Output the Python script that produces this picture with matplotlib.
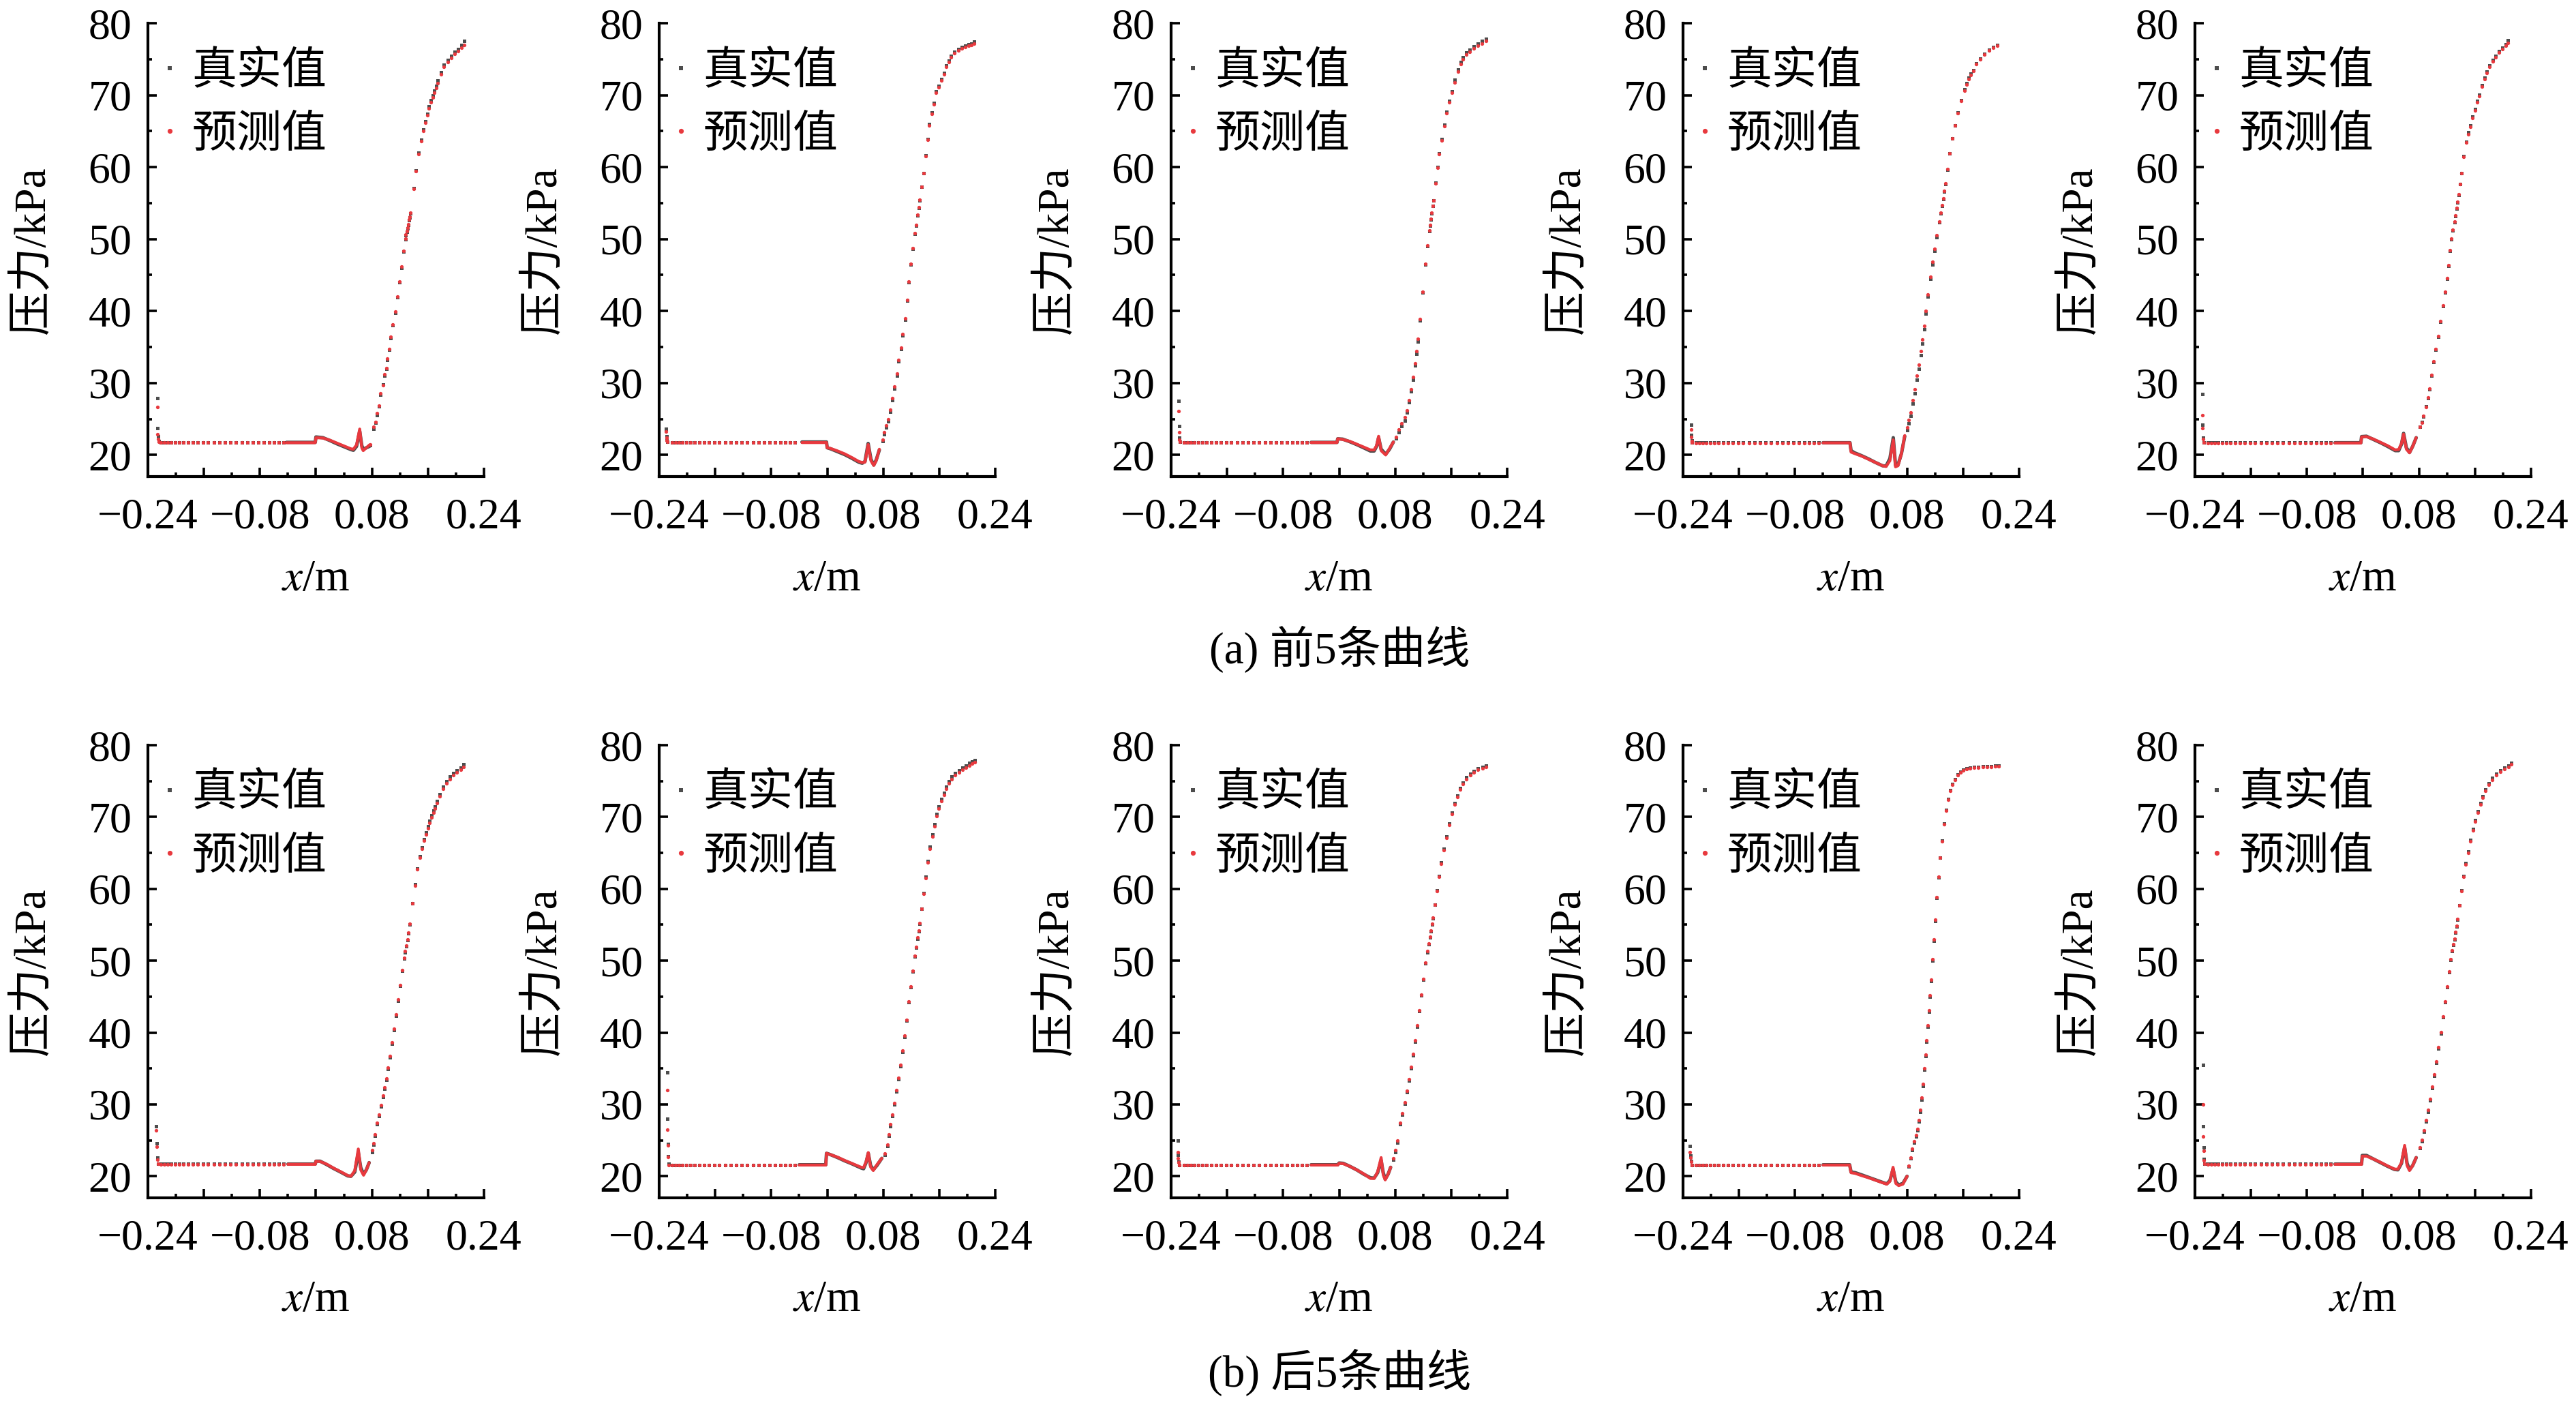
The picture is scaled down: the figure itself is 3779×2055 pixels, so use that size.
import matplotlib
matplotlib.use('Agg')
import matplotlib.pyplot as plt
from matplotlib.ticker import MultipleLocator, FuncFormatter
from matplotlib.lines import Line2D

plt.rcParams['font.family'] = ['Liberation Serif', 'Noto Sans CJK SC']
plt.rcParams['mathtext.fontset'] = 'stix'
plt.rcParams['axes.unicode_minus'] = True

GRAY = '#4d4d4d'
RED = '#e8393e'

LEGEND_LABELS = ['真实值', '预测值']
CAPTIONS = ['(a) 前5条曲线', '(b) 后5条曲线']
X_TICK_LABELED = [-0.24, -0.08, 0.08, 0.24]

# shared sparse mesh in the upstream flat region
x_flat = [-0.2215, -0.2165, -0.2115, -0.2065, -0.2010, -0.1955, -0.1895, -0.1830, -0.1760,
          -0.1690, -0.1615, -0.1540, -0.1460, -0.1380, -0.1300, -0.1220, -0.1140, -0.1060,
          -0.0980, -0.0900, -0.0820, -0.0745, -0.0670, -0.0600, -0.0530, -0.0465]
flat_true = [21.75, 21.75, 21.75, 21.70, 21.70, 21.70, 21.60, 21.60, 21.60, 21.70]
flat_pred = [21.70, 21.70, 21.72, 21.68, 21.66, 21.66, 21.58, 21.56, 21.58, 21.66]

# ---------------- (a) panel 1 ----------------
a1_inlet_x = [-0.2267, -0.2262, -0.2255, -0.2245]
a1_inlet_true = [27.9, 23.7, 22.6, 21.9]
a1_inlet_pred = [26.7, 22.9, 22.2, 21.8]
a1_dense_x = [-0.042, -0.001, 0.000, 0.010, 0.020, 0.030, 0.040, 0.050, 0.0535, 0.058, 0.0625, 0.0655, 0.0675, 0.072, 0.0765]
a1_dense_true = [21.75, 21.75, 22.5, 22.4, 22.0, 21.55, 21.15, 20.75, 20.65, 21.2, 23.3, 21.3, 20.8, 21.0, 21.2]
a1_dense_pred = [21.7, 21.7, 22.4, 22.35, 22.05, 21.65, 21.25, 20.85, 20.8, 21.4, 23.6, 21.0, 20.6, 21.0, 21.4]
a1_rise_x = [0.0777, 0.0826, 0.0849, 0.0868, 0.0898, 0.0923, 0.0956, 0.0979, 0.1005, 0.1020, 0.1045, 0.1070,
             0.1100, 0.1130, 0.1160, 0.1190, 0.1220, 0.1250, 0.1276, 0.1285, 0.1295, 0.1305, 0.1315, 0.1325,
             0.1335, 0.1350, 0.1397, 0.1430, 0.1466, 0.1500, 0.1530, 0.1560, 0.1590, 0.1615, 0.1640, 0.1665,
             0.1690, 0.1715, 0.1740, 0.1785, 0.1830, 0.1880, 0.1930, 0.1980, 0.2030, 0.2080, 0.2120]
a1_rise_true = [21.4, 23.6, 24.5, 25.5, 26.8, 28.4, 29.8, 31.0, 32.0, 33.2, 34.6, 36.2, 38.0, 39.7, 41.9, 44.0,
                46.0, 48.3, 50.0, 50.5, 51.0, 51.5, 52.0, 52.6, 53.0, 53.6, 57.1, 59.5, 62.0, 63.8, 65.2, 66.4,
                67.4, 68.4, 69.3, 70.0, 70.6, 71.3, 72.0, 73.2, 74.2, 74.9, 75.5, 76.0, 76.4, 77.0, 77.5]
a1_rise_pred = [21.5, 23.9, 24.6, 25.8, 26.9, 28.6, 29.7, 31.2, 32.1, 33.4, 34.7, 36.4, 38.1, 39.9, 42.0, 44.1,
                46.2, 48.4, 50.1, 50.6, 51.1, 51.6, 52.1, 52.7, 53.1, 53.7, 57.0, 59.4, 61.8, 63.6, 65.0, 66.2,
                67.2, 68.2, 69.0, 69.7, 70.3, 71.0, 71.7, 72.9, 73.9, 74.6, 75.2, 75.7, 76.1, 76.6, 77.0]

# ---------------- (a) panel 2 ----------------
a2_inlet_x = [-0.2300, -0.2295, -0.2290, -0.2280]
a2_inlet_true = [23.6, 22.6, 22.1, 21.85]
a2_inlet_pred = [23.3, 22.4, 22.0, 21.8]
a2_dense_x = [-0.036, -0.001, 0.000, 0.005, 0.015, 0.025, 0.035, 0.045, 0.050, 0.054, 0.0585, 0.0625, 0.0665, 0.070, 0.0745]
a2_dense_true = [21.8, 21.8, 21.0, 20.85, 20.45, 20.05, 19.55, 19.0, 18.85, 19.1, 21.6, 19.4, 18.6, 19.3, 20.7]
a2_dense_pred = [21.72, 21.72, 21.0, 20.9, 20.55, 20.15, 19.65, 19.1, 18.95, 19.0, 21.45, 19.2, 18.55, 19.2, 20.8]
a2_rise_x = [0.0790, 0.0815, 0.0845, 0.0874, 0.0900, 0.0933, 0.0962, 0.0995, 0.1020, 0.1053, 0.1080, 0.1110,
             0.1140, 0.1165, 0.1188, 0.1220, 0.1254, 0.1270, 0.1290, 0.1305, 0.1320, 0.1350, 0.1377, 0.1405,
             0.1433, 0.1460, 0.1490, 0.1520, 0.1556, 0.1590, 0.1630, 0.1665, 0.1697, 0.1735, 0.1770, 0.1820,
             0.1870, 0.1920, 0.1970, 0.2020, 0.2060, 0.2103]
a2_rise_true = [21.9, 22.9, 23.8, 24.7, 26.0, 27.6, 29.2, 31.0, 33.0, 34.7, 36.6, 38.8, 41.4, 44.0, 46.5, 48.6,
                50.7, 51.9, 53.3, 54.3, 55.4, 57.3, 59.2, 61.6, 63.9, 66.0, 67.6, 68.9, 70.5, 71.3, 72.2, 73.1,
                74.1, 74.8, 75.5, 76.0, 76.4, 76.7, 76.9, 77.1, 77.2, 77.4]
a2_rise_pred = [22.1, 23.2, 24.1, 25.0, 26.3, 27.9, 29.5, 31.3, 33.2, 34.9, 36.8, 39.0, 41.5, 44.1, 46.6, 48.7,
                50.8, 52.0, 53.4, 54.4, 55.5, 57.3, 59.2, 61.5, 63.8, 65.8, 67.4, 68.7, 70.3, 71.1, 72.0, 72.9,
                73.9, 74.6, 75.3, 75.8, 76.2, 76.5, 76.7, 76.9, 77.0, 77.2]

# ---------------- (a) panel 3 ----------------
a3_inlet_x = [-0.2290, -0.2286, -0.2280, -0.2272]
a3_inlet_true = [27.5, 24.0, 22.4, 21.8]
a3_inlet_pred = [26.1, 23.2, 22.1, 21.8]
a3_dense_x = [-0.040, -0.003, -0.002, 0.005, 0.015, 0.025, 0.035, 0.0447, 0.050, 0.0535, 0.0564, 0.060, 0.0665, 0.072, 0.0775]
a3_dense_true = [21.75, 21.75, 22.25, 22.2, 21.85, 21.45, 21.0, 20.55, 20.55, 21.2, 22.4, 20.8, 20.1, 20.8, 21.8]
a3_dense_pred = [21.72, 21.72, 22.25, 22.15, 21.9, 21.5, 21.1, 20.7, 20.7, 21.3, 22.6, 20.6, 20.0, 20.9, 21.8]
a3_rise_x = [0.0810, 0.0850, 0.0890, 0.0940, 0.0966, 0.0998, 0.1027, 0.1056, 0.1083, 0.1108, 0.1128, 0.1158,
             0.1196, 0.1234, 0.1260, 0.1291, 0.1300, 0.1310, 0.1320, 0.1335, 0.1347, 0.1375, 0.1404, 0.1430,
             0.1461, 0.1500, 0.1536, 0.1575, 0.1612, 0.1655, 0.1696, 0.1735, 0.1772, 0.1820, 0.1866, 0.1920,
             0.1980, 0.2040, 0.2100]
a3_rise_true = [22.3, 23.2, 24.0, 24.8, 25.9, 27.3, 28.8, 30.5, 32.4, 34.1, 35.8, 38.7, 42.6, 46.5, 49.0, 51.1,
                51.9, 52.7, 53.6, 54.6, 55.4, 57.8, 60.0, 61.9, 63.9, 65.9, 67.7, 69.2, 70.5, 72.1, 73.6, 74.6,
                75.3, 75.9, 76.3, 76.8, 77.2, 77.5, 77.8]
a3_rise_pred = [22.5, 23.5, 24.4, 25.2, 26.2, 27.6, 29.1, 30.8, 32.7, 34.4, 36.1, 38.9, 42.7, 46.6, 49.1, 51.2,
                52.0, 52.8, 53.7, 54.6, 55.4, 57.7, 59.9, 61.8, 63.7, 65.7, 67.5, 69.0, 70.3, 71.8, 73.3, 74.3,
                75.0, 75.6, 76.0, 76.5, 76.9, 77.2, 77.5]

# ---------------- (a) panel 4 ----------------
a4_inlet_x = [-0.2285, -0.2280, -0.2275, -0.2270]
a4_inlet_true = [24.2, 22.8, 22.0, 21.75]
a4_inlet_pred = [23.5, 22.5, 21.9, 21.7]
a4_dense_x = [-0.040, -0.0015, 0.000, 0.005, 0.015, 0.025, 0.035, 0.045, 0.050, 0.0555, 0.0603, 0.0635, 0.067, 0.072, 0.0767]
a4_dense_true = [21.7, 21.7, 20.6, 20.3, 19.9, 19.45, 18.95, 18.5, 18.45, 19.5, 22.4, 18.6, 18.6, 20.2, 22.6]
a4_dense_pred = [21.68, 21.68, 20.4, 20.2, 19.85, 19.4, 18.95, 18.5, 18.4, 19.2, 22.1, 18.35, 18.5, 20.2, 22.7]
a4_rise_x = [0.0800, 0.0825, 0.0852, 0.0878, 0.0907, 0.0940, 0.0966, 0.0998, 0.1020, 0.1045, 0.1069, 0.1100,
             0.1134, 0.1165, 0.1193, 0.1225, 0.1261, 0.1285, 0.1300, 0.1315, 0.1330, 0.1344, 0.1375, 0.1410,
             0.1450, 0.1485, 0.1525, 0.1569, 0.1618, 0.1650, 0.1677, 0.1710, 0.1744, 0.1790, 0.1843, 0.1900,
             0.1968, 0.2030, 0.2093]
a4_rise_true = [23.4, 24.4, 25.4, 27.1, 28.6, 30.5, 32.0, 33.9, 35.5, 37.5, 39.6, 42.0, 44.5, 46.5, 48.4, 50.3,
                52.3, 53.6, 54.6, 55.6, 56.6, 57.6, 59.6, 61.9, 64.0, 65.8, 67.6, 69.3, 70.8, 71.7, 72.4, 73.0,
                73.5, 74.4, 75.1, 75.7, 76.3, 76.7, 77.0]
a4_rise_pred = [23.8, 24.9, 25.9, 27.6, 29.1, 31.0, 32.5, 34.4, 36.0, 37.9, 40.0, 42.3, 44.8, 46.8, 48.6, 50.5,
                52.4, 53.7, 54.7, 55.7, 56.7, 57.7, 59.7, 61.9, 64.0, 65.8, 67.5, 69.2, 70.6, 71.5, 72.2, 72.8,
                73.4, 74.3, 75.0, 75.6, 76.2, 76.6, 76.9]

# ---------------- (a) panel 5 ----------------
a5_inlet_x = [-0.2297, -0.2292, -0.2286, -0.2278]
a5_inlet_true = [28.5, 24.2, 22.4, 21.7]
a5_inlet_pred = [25.5, 23.7, 22.2, 21.7]
a5_dense_x = [-0.040, -0.003, -0.002, 0.005, 0.015, 0.025, 0.035, 0.046, 0.051, 0.055, 0.058, 0.062, 0.0665, 0.071, 0.076]
a5_dense_true = [21.7, 21.7, 22.55, 22.6, 22.15, 21.7, 21.2, 20.6, 20.6, 21.5, 23.0, 21.0, 20.35, 21.2, 22.4]
a5_dense_pred = [21.66, 21.66, 22.5, 22.55, 22.2, 21.75, 21.3, 20.7, 20.75, 21.6, 22.9, 20.8, 20.3, 21.2, 22.4]
a5_rise_x = [0.0810, 0.0840, 0.0866, 0.0900, 0.0925, 0.0950, 0.0980, 0.1008, 0.1040, 0.1074, 0.1105, 0.1140,
             0.1170, 0.1199, 0.1220, 0.1240, 0.1265, 0.1285, 0.1307, 0.1320, 0.1335, 0.1350, 0.1365, 0.1385,
             0.1407, 0.1440, 0.1473, 0.1500, 0.1532, 0.1565, 0.1598, 0.1630, 0.1656, 0.1700, 0.1738, 0.1770,
             0.1806, 0.1850, 0.1889, 0.1940, 0.1990, 0.2035, 0.2072]
a5_rise_true = [23.9, 24.6, 25.3, 26.8, 27.9, 29.1, 31.0, 32.9, 34.6, 36.4, 38.5, 40.7, 42.6, 44.5, 46.3, 48.4,
                50.0, 51.2, 52.3, 53.2, 54.2, 55.1, 56.1, 57.6, 59.2, 61.5, 63.5, 64.8, 65.8, 67.0, 68.1, 69.2,
                70.1, 71.4, 72.4, 73.3, 74.1, 74.9, 75.5, 76.1, 76.6, 77.1, 77.6]
a5_rise_pred = [23.9, 24.5, 25.4, 26.7, 28.0, 29.2, 31.1, 33.0, 34.7, 36.5, 38.6, 40.8, 42.7, 44.6, 46.4, 48.5,
                50.1, 51.3, 52.4, 53.3, 54.3, 55.2, 56.2, 57.6, 59.2, 61.4, 63.4, 64.6, 65.6, 66.8, 67.9, 69.0,
                69.9, 71.2, 72.2, 73.1, 73.9, 74.7, 75.3, 75.9, 76.4, 76.9, 77.3]

# ---------------- (b) panel 1 ----------------
b1_inlet_x = [-0.2280, -0.2275, -0.2265, -0.2255]
b1_inlet_true = [27.0, 24.6, 22.6, 21.75]
b1_inlet_pred = [26.4, 24.1, 22.3, 21.7]
b1_dense_x = [-0.040, -0.001, 0.000, 0.006, 0.015, 0.025, 0.035, 0.0455, 0.050, 0.0555, 0.0605, 0.064, 0.068, 0.072, 0.076]
b1_dense_true = [21.7, 21.7, 22.1, 22.1, 21.65, 21.1, 20.6, 20.05, 20.0, 20.6, 23.3, 21.2, 20.3, 20.9, 21.9]
b1_dense_pred = [21.66, 21.66, 22.1, 22.05, 21.7, 21.15, 20.65, 20.1, 20.0, 20.8, 23.8, 20.9, 20.15, 20.9, 21.9]
b1_rise_x = [0.0800, 0.0820, 0.0845, 0.0876, 0.0900, 0.0925, 0.0955, 0.0980, 0.1005, 0.1030, 0.1055, 0.1085,
             0.1115, 0.1145, 0.1175, 0.1205, 0.1235, 0.1260, 0.1275, 0.1290, 0.1305, 0.1320, 0.1340, 0.1380,
             0.1415, 0.1450, 0.1485, 0.1515, 0.1545, 0.1575, 0.1600, 0.1625, 0.1650, 0.1675, 0.1700, 0.1730,
             0.1770, 0.1815, 0.1865, 0.1915, 0.1965, 0.2015, 0.2065, 0.2110]
b1_rise_true = [23.4, 24.4, 25.6, 27.2, 28.4, 29.7, 31.0, 32.2, 33.4, 34.9, 36.5, 38.4, 40.3, 42.3, 44.4, 46.5,
                48.6, 50.3, 51.2, 52.0, 52.9, 53.8, 55.0, 58.0, 60.6, 62.8, 64.5, 65.8, 66.9, 67.9, 68.7, 69.5,
                70.2, 70.9, 71.5, 72.2, 73.2, 74.2, 75.0, 75.6, 76.1, 76.5, 76.9, 77.3]
b1_rise_pred = [23.6, 24.6, 25.8, 27.4, 28.6, 29.9, 31.2, 32.4, 33.6, 35.1, 36.7, 38.6, 40.5, 42.5, 44.6, 46.6,
                48.7, 50.4, 51.3, 52.1, 53.0, 53.9, 55.1, 58.0, 60.5, 62.7, 64.3, 65.6, 66.7, 67.6, 68.4, 69.2,
                69.9, 70.6, 71.2, 71.9, 72.9, 73.9, 74.7, 75.3, 75.8, 76.2, 76.6, 77.0]

# ---------------- (b) panel 2 ----------------
b2_inlet_x = [-0.2285, -0.2282, -0.2278, -0.2270, -0.2260]
b2_inlet_true = [34.5, 28.0, 24.5, 22.8, 21.7]
b2_inlet_pred = [32.0, 26.5, 24.3, 22.7, 21.6]
b2_dense_x = [-0.040, -0.002, -0.001, 0.005, 0.015, 0.025, 0.035, 0.0486, 0.052, 0.0555, 0.0587, 0.062, 0.0658, 0.071, 0.078]
b2_dense_true = [21.6, 21.6, 23.2, 23.0, 22.6, 22.15, 21.75, 21.15, 21.05, 21.9, 23.2, 21.5, 20.9, 21.5, 22.5]
b2_dense_pred = [21.56, 21.56, 23.2, 23.0, 22.65, 22.2, 21.8, 21.25, 21.2, 22.0, 23.3, 21.3, 20.8, 21.6, 22.5]
b2_rise_x = [0.0820, 0.0860, 0.0880, 0.0900, 0.0925, 0.0955, 0.0985, 0.1015, 0.1045, 0.1075, 0.1105, 0.1135,
             0.1165, 0.1190, 0.1220, 0.1250, 0.1270, 0.1290, 0.1305, 0.1320, 0.1350, 0.1380, 0.1410, 0.1440,
             0.1470, 0.1500, 0.1530, 0.1560, 0.1595, 0.1630, 0.1665, 0.1700, 0.1740, 0.1780, 0.1830, 0.1880,
             0.1930, 0.1980, 0.2030, 0.2070, 0.2110]
b2_rise_true = [23.0, 24.2, 25.6, 27.0, 28.4, 30.0, 31.8, 33.5, 35.3, 37.3, 39.4, 41.7, 44.2, 46.3, 48.5, 50.6,
                51.8, 53.1, 54.1, 55.1, 57.2, 59.4, 61.7, 63.9, 65.9, 67.6, 69.0, 70.4, 71.5, 72.5, 73.4, 74.2,
                75.0, 75.6, 76.1, 76.5, 76.9, 77.2, 77.5, 77.7, 77.9]
b2_rise_pred = [23.2, 24.4, 25.8, 27.2, 28.6, 30.2, 32.0, 33.7, 35.5, 37.5, 39.6, 41.8, 44.3, 46.4, 48.6, 50.7,
                51.9, 53.2, 54.2, 55.2, 57.2, 59.3, 61.5, 63.7, 65.6, 67.3, 68.7, 70.1, 71.2, 72.2, 73.1, 73.9,
                74.7, 75.3, 75.8, 76.2, 76.6, 76.9, 77.2, 77.4, 77.6]

# ---------------- (b) panel 3 ----------------
b3_inlet_x = [-0.2306, -0.2300, -0.2290, -0.2280]
b3_inlet_true = [25.0, 23.0, 22.0, 21.6]
b3_inlet_pred = [23.4, 22.5, 21.9, 21.6]
b3_dense_x = [-0.040, -0.002, 0.000, 0.006, 0.015, 0.025, 0.035, 0.0447, 0.050, 0.055, 0.060, 0.063, 0.0658, 0.070, 0.0736]
b3_dense_true = [21.6, 21.6, 21.85, 21.8, 21.4, 20.9, 20.3, 19.8, 19.75, 20.5, 22.2, 20.5, 19.6, 20.3, 21.25]
b3_dense_pred = [21.56, 21.56, 21.8, 21.75, 21.4, 20.9, 20.35, 19.7, 19.7, 20.6, 22.6, 20.2, 19.5, 20.3, 21.25]
b3_rise_x = [0.0770, 0.0800, 0.0837, 0.0876, 0.0905, 0.0935, 0.0965, 0.0995, 0.1025, 0.1055, 0.1085, 0.1115,
             0.1145, 0.1175, 0.1205, 0.1235, 0.1260, 0.1280, 0.1295, 0.1310, 0.1325, 0.1340, 0.1370, 0.1400,
             0.1430, 0.1460, 0.1495, 0.1530, 0.1570, 0.1610, 0.1650, 0.1690, 0.1730, 0.1770, 0.1820, 0.1870,
             0.1925, 0.1985, 0.2045, 0.2100]
b3_rise_true = [22.3, 23.4, 24.7, 27.2, 28.6, 30.1, 31.7, 33.3, 35.0, 36.8, 38.7, 40.8, 43.0, 45.2, 47.4, 49.6,
                51.2, 52.3, 53.2, 54.1, 55.0, 55.9, 57.8, 59.8, 61.8, 63.7, 65.6, 67.3, 69.1, 70.6, 71.9, 73.0,
                74.0, 74.8, 75.5, 76.0, 76.4, 76.8, 77.0, 77.2]
b3_rise_pred = [22.5, 23.6, 25.0, 27.4, 28.8, 30.3, 31.9, 33.5, 35.2, 37.0, 38.9, 41.0, 43.1, 45.3, 47.5, 49.7,
                51.3, 52.4, 53.3, 54.2, 55.1, 56.0, 57.8, 59.7, 61.7, 63.5, 65.4, 67.1, 68.9, 70.4, 71.7, 72.8,
                73.8, 74.6, 75.3, 75.8, 76.2, 76.6, 76.8, 77.0]

# ---------------- (b) panel 4 ----------------
b4_inlet_x = [-0.2300, -0.2295, -0.2285, -0.2275]
b4_inlet_true = [24.2, 22.9, 22.1, 21.6]
b4_inlet_pred = [23.4, 22.6, 22.0, 21.6]
b4_dense_x = [-0.040, -0.002, 0.000, 0.006, 0.015, 0.025, 0.035, 0.045, 0.051, 0.0555, 0.060, 0.064, 0.068, 0.074, 0.080]
b4_dense_true = [21.6, 21.6, 20.6, 20.5, 20.2, 19.85, 19.5, 19.15, 18.95, 19.4, 21.0, 19.2, 18.8, 19.0, 20.0]
b4_dense_pred = [21.56, 21.56, 20.5, 20.4, 20.1, 19.8, 19.45, 19.1, 18.9, 19.3, 21.25, 19.0, 18.7, 18.9, 20.0]
b4_rise_x = [0.0825, 0.0850, 0.0875, 0.0900, 0.0925, 0.0950, 0.0970, 0.0990, 0.1010, 0.1030, 0.1050, 0.1065,
             0.1080, 0.1095, 0.1110, 0.1125, 0.1140, 0.1160, 0.1180, 0.1200, 0.1225, 0.1250, 0.1275, 0.1300,
             0.1330, 0.1360, 0.1390, 0.1420, 0.1450, 0.1480, 0.1520, 0.1560, 0.1600, 0.1650, 0.1700, 0.1760,
             0.1820, 0.1880, 0.1940, 0.2000, 0.2060, 0.2110]
b4_rise_true = [21.4, 22.5, 23.6, 24.7, 25.5, 26.4, 27.6, 29.0, 30.7, 32.6, 34.8, 36.7, 38.7, 40.8, 42.9, 45.0,
                47.2, 50.0, 52.8, 55.5, 58.7, 61.6, 64.3, 66.7, 69.1, 71.0, 72.5, 73.7, 74.6, 75.3, 75.9, 76.3,
                76.6, 76.8, 76.9, 77.0, 77.0, 77.1, 77.1, 77.1, 77.2, 77.2]
b4_rise_pred = [21.5, 22.6, 23.8, 24.9, 25.7, 26.6, 27.8, 29.2, 30.9, 32.8, 35.0, 36.9, 38.9, 41.0, 43.1, 45.2,
                47.4, 50.2, 53.0, 55.7, 58.8, 61.7, 64.3, 66.6, 69.0, 70.9, 72.4, 73.6, 74.5, 75.2, 75.8, 76.2,
                76.5, 76.7, 76.8, 76.9, 76.9, 77.0, 77.0, 77.0, 77.1, 77.1]

# ---------------- (b) panel 5 ----------------
b5_inlet_x = [-0.2285, -0.2282, -0.2278, -0.2270, -0.2260]
b5_inlet_true = [35.5, 27.0, 24.0, 22.4, 21.7]
b5_inlet_pred = [30.0, 25.5, 23.5, 22.2, 21.7]
b5_dense_x = [-0.040, -0.002, -0.001, 0.005, 0.015, 0.025, 0.035, 0.045, 0.050, 0.055, 0.0595, 0.063, 0.0665, 0.071, 0.076]
b5_dense_true = [21.7, 21.7, 22.9, 22.9, 22.4, 21.9, 21.4, 20.95, 20.9, 21.8, 24.0, 21.8, 20.9, 21.5, 22.6]
b5_dense_pred = [21.66, 21.66, 22.8, 22.8, 22.4, 21.95, 21.45, 21.0, 21.0, 21.9, 24.3, 21.5, 20.8, 21.5, 22.6]
b5_rise_x = [0.0810, 0.0840, 0.0870, 0.0900, 0.0930, 0.0960, 0.0990, 0.1020, 0.1050, 0.1080, 0.1110, 0.1140,
             0.1170, 0.1200, 0.1230, 0.1255, 0.1275, 0.1290, 0.1305, 0.1320, 0.1335, 0.1350, 0.1380, 0.1410,
             0.1440, 0.1470, 0.1500, 0.1535, 0.1570, 0.1605, 0.1640, 0.1675, 0.1710, 0.1750, 0.1795, 0.1845,
             0.1900, 0.1960, 0.2020, 0.2080, 0.2120]
b5_rise_true = [23.9, 24.9, 26.2, 27.6, 29.0, 30.6, 32.3, 34.0, 35.8, 37.8, 39.9, 42.1, 44.2, 46.3, 48.4, 50.1,
                51.3, 52.2, 53.0, 53.9, 54.8, 55.7, 57.7, 59.8, 61.8, 63.6, 65.2, 66.8, 68.3, 69.6, 70.8, 71.9,
                72.9, 73.8, 74.7, 75.4, 76.0, 76.5, 76.9, 77.2, 77.5]
b5_rise_pred = [24.0, 25.1, 26.4, 27.8, 29.2, 30.8, 32.5, 34.2, 36.0, 38.0, 40.1, 42.2, 44.3, 46.4, 48.5, 50.2,
                51.4, 52.3, 53.1, 54.0, 54.9, 55.8, 57.7, 59.7, 61.7, 63.4, 65.0, 66.6, 68.1, 69.4, 70.6, 71.7,
                72.7, 73.6, 74.5, 75.2, 75.8, 76.3, 76.7, 77.0, 77.3]

panels = [
    (a1_inlet_x, a1_inlet_true, a1_inlet_pred, a1_dense_x, a1_dense_true, a1_dense_pred, a1_rise_x, a1_rise_true, a1_rise_pred),
    (a2_inlet_x, a2_inlet_true, a2_inlet_pred, a2_dense_x, a2_dense_true, a2_dense_pred, a2_rise_x, a2_rise_true, a2_rise_pred),
    (a3_inlet_x, a3_inlet_true, a3_inlet_pred, a3_dense_x, a3_dense_true, a3_dense_pred, a3_rise_x, a3_rise_true, a3_rise_pred),
    (a4_inlet_x, a4_inlet_true, a4_inlet_pred, a4_dense_x, a4_dense_true, a4_dense_pred, a4_rise_x, a4_rise_true, a4_rise_pred),
    (a5_inlet_x, a5_inlet_true, a5_inlet_pred, a5_dense_x, a5_dense_true, a5_dense_pred, a5_rise_x, a5_rise_true, a5_rise_pred),
    (b1_inlet_x, b1_inlet_true, b1_inlet_pred, b1_dense_x, b1_dense_true, b1_dense_pred, b1_rise_x, b1_rise_true, b1_rise_pred),
    (b2_inlet_x, b2_inlet_true, b2_inlet_pred, b2_dense_x, b2_dense_true, b2_dense_pred, b2_rise_x, b2_rise_true, b2_rise_pred),
    (b3_inlet_x, b3_inlet_true, b3_inlet_pred, b3_dense_x, b3_dense_true, b3_dense_pred, b3_rise_x, b3_rise_true, b3_rise_pred),
    (b4_inlet_x, b4_inlet_true, b4_inlet_pred, b4_dense_x, b4_dense_true, b4_dense_pred, b4_rise_x, b4_rise_true, b4_rise_pred),
    (b5_inlet_x, b5_inlet_true, b5_inlet_pred, b5_dense_x, b5_dense_true, b5_dense_pred, b5_rise_x, b5_rise_true, b5_rise_pred),
]

W, H = 3780, 2055
fig = plt.figure(figsize=(W / 100, H / 100), dpi=100)
lefts_px = [217, 967, 1718, 2469, 3220]
width_px = 493
row_top_px = [34, 1093]
row_bot_px = [699, 1757]

FS = 46
MS_T = 3.6
MS_P = 3.8
LW_DENSE = 3.6


def xfmt(v, pos):
    for t in X_TICK_LABELED:
        if abs(v - t) < 1e-6:
            return ('%.2f' % v).replace('-', '\u2212')
    return ''


for i, p in enumerate(panels):
    (ix, it, ip, dx, dt, dp, rx, rt, rp) = p
    r, c = divmod(i, 5)
    ax = fig.add_axes([lefts_px[c] / W, 1 - row_bot_px[r] / H, width_px / W,
                       (row_bot_px[r] - row_top_px[r]) / H])
    ft = [flat_true[i]] * len(x_flat)
    fp = [flat_pred[i]] * len(x_flat)
    # true values (gray squares)
    ax.plot(dx, dt, color=GRAY, lw=LW_DENSE, solid_capstyle='round', solid_joinstyle='round', zorder=2)
    ax.plot(list(ix) + x_flat + list(rx), list(it) + ft + list(rt), ls='none', marker='s',
            ms=MS_T, color=GRAY, mew=0, zorder=2)
    # predicted values (red circles)
    ax.plot(dx, dp, color=RED, lw=LW_DENSE * 0.85, solid_capstyle='round', solid_joinstyle='round', zorder=3)
    ax.plot(list(ix) + x_flat + list(rx), list(ip) + fp + list(rp), ls='none', marker='o',
            ms=MS_P, color=RED, mew=0, zorder=3)

    ax.set_xlim(-0.24, 0.24)
    ax.set_ylim(17, 80)
    for s in ['top', 'right']:
        ax.spines[s].set_visible(False)
    for s in ['left', 'bottom']:
        ax.spines[s].set_linewidth(3.0)
    ax.xaxis.set_major_locator(MultipleLocator(0.08))
    ax.xaxis.set_minor_locator(MultipleLocator(0.04))
    ax.xaxis.set_major_formatter(FuncFormatter(xfmt))
    ax.yaxis.set_major_locator(MultipleLocator(10))
    ax.yaxis.set_minor_locator(MultipleLocator(5))
    ax.tick_params(which='major', direction='in', length=9.5, width=2.6, labelsize=FS)
    ax.tick_params(which='minor', direction='in', length=4.5, width=2.6)
    ax.tick_params(axis='x', which='major', pad=23)
    ax.tick_params(axis='y', which='major', pad=17)

    ax.text(-0.343, 0.5, '压力/kPa', rotation=90, ha='center', va='center',
            transform=ax.transAxes, fontsize=47)
    ax.text(0.5, -0.227, r'$x$/m', ha='center', va='center', transform=ax.transAxes, fontsize=47)

    handles = [Line2D([], [], ls='none', marker='s', ms=5.0, color=GRAY, mew=0),
               Line2D([], [], ls='none', marker='o', ms=5.2, color=RED, mew=0)]
    ax.legend(handles, LEGEND_LABELS, loc='upper left', bbox_to_anchor=(0.031, 0.938),
              frameon=False, fontsize=47.5, handlelength=0.5, handletextpad=0.24,
              labelspacing=0.49, borderpad=0, borderaxespad=0)

fig.text(1965 / W, 1 - 952 / H, CAPTIONS[0], ha='center', va='center', fontsize=47)
fig.text(1965 / W, 1 - 2013 / H, CAPTIONS[1], ha='center', va='center', fontsize=47)

fig.savefig('out.png', dpi=100)
